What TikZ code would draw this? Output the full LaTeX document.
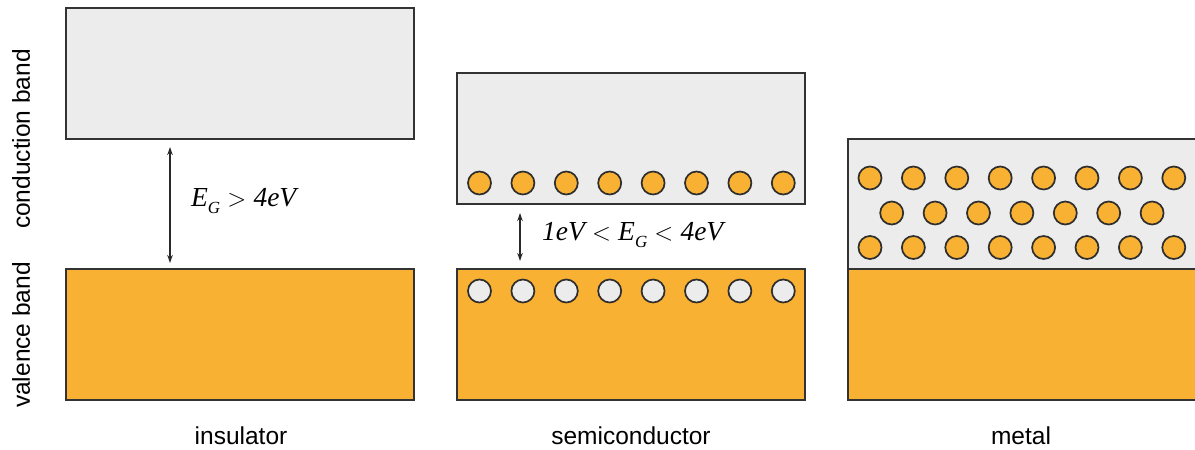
\documentclass[tikz,border=0pt]{standalone}
\usepackage{fontspec}
\setmainfont{Liberation Sans}
\newfontfamily\tnr{Liberation Serif}
\usetikzlibrary{arrows.meta}
\definecolor{orng}{HTML}{F8B133}
\definecolor{lgray}{HTML}{ECECEC}
\definecolor{edge}{HTML}{333333}
\tikzset{
  band/.style={draw=edge, line width=1.4pt},
  cband/.style={band, fill=lgray},
  vband/.style={band, fill=orng},
  elec/.style={draw=edge!90!black, line width=1.7pt, fill=orng},
  hole/.style={draw=edge!90!black, line width=1.7pt, fill=lgray},
  gaparrow/.style={draw=edge!80!black, line width=1.6pt, {Stealth[length=8pt,width=5.5pt]}-{Stealth[length=8pt,width=5.5pt]}},
  lbl/.style={font=\fontsize{24.5}{27}\selectfont, text=black},
  eq/.style={font=\tnr\itshape\fontsize{27.5}{30}\selectfont, text=black, anchor=west, inner sep=0pt}
}
\newcommand{\sbG}{\raisebox{-7pt}{\fontsize{17}{18}\selectfont G}}
\newcommand{\rgt}{\hspace{0.26em}$>$\hspace{0.26em}}
\newcommand{\lft}{\hspace{0.26em}$<$\hspace{0.26em}}
\begin{document}
\begin{tikzpicture}[x=1pt,y=-1pt]
\useasboundingbox (0,0) rectangle (1195,450);
\clip (0,0) rectangle (1195,450);
% insulator
\draw[cband] (66,8) rectangle (414,139);
\draw[vband] (66,269) rectangle (414,400);
\coordinate (ia) at (170,147);
\coordinate (ib) at (170,263);
\draw[gaparrow] (ia) -- (ib);
\node[eq] (ieq) at (191,201) {E\sbG\rgt4eV};
\node[lbl] (ins) at (241,436) {insulator};
% semiconductor
\draw[cband] (457,73) rectangle (805,204);
\draw[vband] (457,269) rectangle (805,400);
\foreach \i in {0,...,7} {
  \node[elec, circle, minimum size=23pt, inner sep=0pt] (se\i) at ({479.5+\i*43.4},183) {};
  \node[hole, circle, minimum size=23pt, inner sep=0pt] (sh\i) at ({479.5+\i*43.4},291) {};
}
\coordinate (sa) at (520,213);
\coordinate (sb) at (520,261);
\draw[gaparrow] (sa) -- (sb);
\node[eq] (seq) at (542,235) {1eV\lft E\sbG\lft4eV};
\node[lbl] (semi) at (631,436) {semiconductor};
% metal
\draw[cband] (848,139) rectangle (1196,269);
\draw[vband] (848,269) rectangle (1196,400);
\foreach \i in {0,...,7} {
  \node[elec, circle, minimum size=23pt, inner sep=0pt] (ma\i) at ({870+\i*43.4},178) {};
  \node[elec, circle, minimum size=23pt, inner sep=0pt] (mc\i) at ({870+\i*43.4},247.5) {};
}
\foreach \i in {0,...,6} {
  \node[elec, circle, minimum size=23pt, inner sep=0pt] (mb\i) at ({891.7+\i*43.4},213) {};
}
\node[lbl] (met) at (1021,436) {metal};
% side labels
\node[lbl, rotate=90] (cb) at (21,139) {conduction band};
\node[lbl, rotate=90] (vb) at (21,335) {valence band};
\end{tikzpicture}
\end{document}
